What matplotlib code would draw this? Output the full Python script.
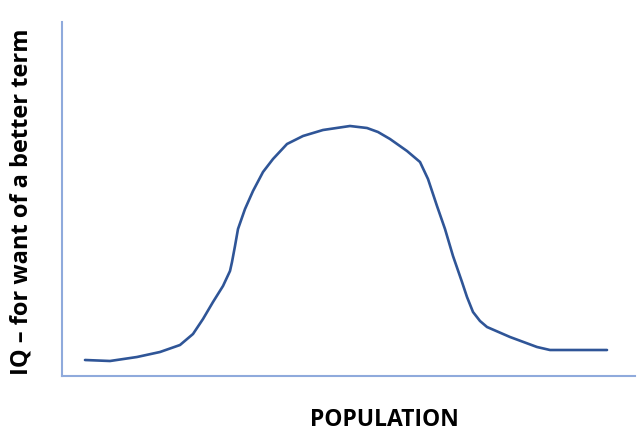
import numpy as np
import matplotlib.pyplot as plt

# curve (x along population, y = height above the axis)
pop_x = [23, 48, 75, 98, 118, 131, 141, 151, 161, 168, 170, 173, 176, 183,
         191, 201, 211, 225, 241, 261, 288, 305, 316, 328, 345, 358, 366,
         375, 383, 391, 400, 405, 411, 418, 425, 448, 475, 488, 515, 545]
iq_y = [16, 15, 19, 24, 31, 42, 57, 74, 90, 105, 114, 130, 147, 167,
        185, 204, 217, 232, 240, 246, 250, 248, 244, 237, 225, 214, 197,
        170, 147, 120, 94, 79, 64, 55, 49, 39, 29, 26, 26, 26]

fig = plt.figure(figsize=(6.42, 4.39), dpi=100)
ax = fig.add_axes([62/642, 1-377/439, (635-62)/642, (377-23)/439])
ax.plot(pop_x, iq_y, color='#2F5597', linewidth=1.9,
        solid_capstyle='round', solid_joinstyle='round')
ax.set_xlim(0, 573)
ax.set_ylim(0, 354)

for s in ['top', 'right']:
    ax.spines[s].set_visible(False)
for s in ['left', 'bottom']:
    ax.spines[s].set_color('#8FAADC')
    ax.spines[s].set_linewidth(1.5)
ax.set_xticks([])
ax.set_yticks([])

fig.text(384/642, 1-420/439, 'POPULATION', ha='center', va='center',
         fontsize=16.5, fontweight='bold', family='Open Sans')
fig.text(22/642, 1-202/439, 'IQ \u2013 for want of a better term', ha='center',
         va='center', rotation=90, fontsize=17, fontweight='bold', family='Open Sans')

plt.savefig('out.png')
